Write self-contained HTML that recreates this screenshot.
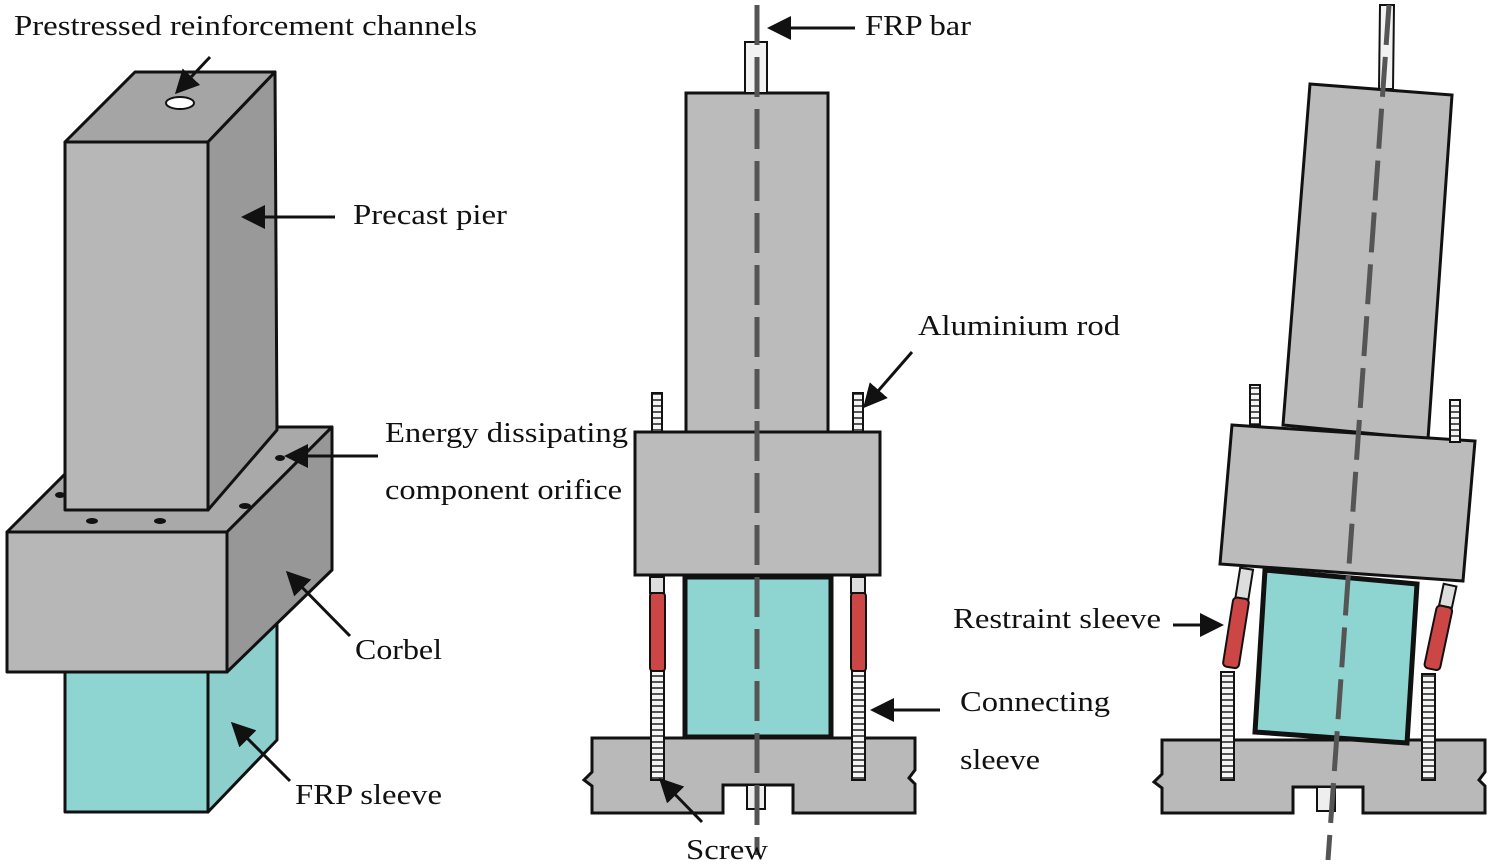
<!DOCTYPE html>
<html><head><meta charset="utf-8"><style>
html,body{margin:0;padding:0;background:#fff;}
svg{display:block;}
text{font-family:"Liberation Serif",serif;font-size:29px;fill:#111;}
</style></head><body>
<svg width="1500" height="868" viewBox="0 0 1500 868" xmlns="http://www.w3.org/2000/svg">
<defs>
<marker id="ah" markerWidth="8" markerHeight="8" refX="7" refY="4" orient="auto" markerUnits="strokeWidth">
<path d="M0,0 L8,4 L0,8 z" fill="#111"/></marker>
<pattern id="thr" width="6" height="6" patternUnits="userSpaceOnUse">
<rect width="6" height="6" fill="#f4f4f4"/><rect y="3" width="6" height="2" fill="#555"/></pattern>
</defs>
<g stroke="#111" stroke-width="3" stroke-linejoin="round">
<!-- LEFT FIGURE -->
<polygon points="208,672 277,600 277,740 208,812" fill="#8ccfcc"/>
<rect x="65" y="640" width="143" height="172" fill="#8ed5d2"/>
<polygon points="7,532 112,427 332,427 227,532" fill="#a9a9a9"/>
<polygon points="227,532 332,427 332,570 227,672" fill="#979797"/>
<rect x="7" y="532" width="220" height="140" fill="#b7b7b7"/>
<polygon points="65,142 135,72 275,72 208,142" fill="#a5a5a5"/>
<polygon points="208,142 275,72 277,430 208,510" fill="#999"/>
<rect x="65" y="142" width="143" height="368" fill="#b7b7b7"/>
<ellipse cx="180" cy="103" rx="14" ry="6" fill="#fff" stroke-width="2"/>
</g>
<g fill="#111">
<ellipse cx="92" cy="521" rx="6" ry="3"/><ellipse cx="160" cy="521" rx="6" ry="3"/>
<ellipse cx="245" cy="506" rx="6" ry="3"/><ellipse cx="60" cy="495" rx="5" ry="3"/>
<ellipse cx="280" cy="458" rx="5" ry="3"/>
</g>

<!-- MIDDLE FIGURE -->
<g stroke="#111" stroke-width="3">
<path d="M592,738 H915 V770 l-6,8 6,6 V813 H793 V785 H723 V813 H592 V786 l-8,-6 8,-8 Z" fill="#b9b9b9"/>
<rect x="747" y="785" width="18" height="24" fill="#eee" stroke-width="2"/>
<rect x="685" y="577" width="146" height="160" fill="#8ed5d2" stroke-width="5"/>
<rect x="686" y="93" width="142" height="340" fill="#bbb"/>
<rect x="635" y="432" width="245" height="143" fill="#bbb"/>
<rect x="745" y="42" width="22" height="51" fill="#f2f2f2" stroke-width="2"/>
</g>
<line x1="757" y1="5" x2="757" y2="855" stroke="#555" stroke-width="5" stroke-dasharray="40,12"/>
<g stroke="#111" stroke-width="2">
<rect x="652" y="393" width="10" height="39" fill="url(#thr)"/>
<rect x="853" y="393" width="10" height="39" fill="url(#thr)"/>
<rect x="650" y="577" width="14" height="16" fill="#ddd"/>
<rect x="851" y="577" width="14" height="16" fill="#ddd"/>
<rect x="650" y="593" width="15" height="78" fill="#cc4646" rx="3"/>
<rect x="851" y="593" width="15" height="78" fill="#cc4646" rx="3"/>
<rect x="651" y="671" width="13" height="109" fill="url(#thr)"/>
<rect x="852" y="671" width="13" height="109" fill="url(#thr)"/>
</g>

<!-- RIGHT FIGURE -->
<g stroke="#111" stroke-width="3">
<path d="M1162,740 H1485 V772 l-6,8 6,6 V813 H1363 V787 H1293 V813 H1162 V788 l-8,-6 8,-8 Z" fill="#b9b9b9"/>
<rect x="1317" y="787" width="18" height="24" fill="#eee" stroke-width="2"/>
<polygon points="1265,570 1417,584 1407,743 1255,732" fill="#8ed5d2" stroke-width="5"/>
<polygon points="1310,84 1452,95 1428,439 1283,425" fill="#bbb"/>
<polygon points="1232,425 1475,441 1463,581 1220,564" fill="#bbb"/>
<polygon points="1380,5 1394,5 1393,89 1379,89" fill="#f2f2f2" stroke-width="2"/>
</g>
<line x1="1389" y1="5" x2="1328" y2="860" stroke="#555" stroke-width="5" stroke-dasharray="40,12"/>
<g stroke="#111" stroke-width="2">
<rect x="1250" y="385" width="10" height="40" fill="url(#thr)"/>
<rect x="1450" y="400" width="10" height="42" fill="url(#thr)"/>
<g transform="rotate(9 1238 620)">
<rect x="1232" y="568" width="13" height="30" fill="#ddd"/>
<rect x="1230" y="598" width="16" height="70" fill="#cc4646" rx="4"/>
</g>
<rect x="1221" y="672" width="13" height="108" fill="url(#thr)"/>
<g transform="rotate(12 1440 630)">
<rect x="1434" y="584" width="13" height="22" fill="#ddd"/>
<rect x="1432" y="606" width="16" height="64" fill="#cc4646" rx="4"/>
</g>
<rect x="1422" y="674" width="13" height="106" fill="url(#thr)"/>
</g>

<!-- ARROWS -->
<g stroke="#111" stroke-width="3" fill="none" marker-end="url(#ah)">
<line x1="210" y1="57" x2="177" y2="92"/>
<line x1="335" y1="217" x2="244" y2="217"/>
<line x1="378" y1="456" x2="287" y2="456"/>
<line x1="350" y1="636" x2="288" y2="573"/>
<line x1="290" y1="781" x2="233" y2="724"/>
<line x1="855" y1="28" x2="770" y2="28"/>
<line x1="912" y1="352" x2="865" y2="406"/>
<line x1="1173" y1="625" x2="1221" y2="625"/>
<line x1="940" y1="710" x2="873" y2="710"/>
<line x1="702" y1="822" x2="661" y2="780"/>
</g>

<!-- LABELS -->
<text x="14" y="35" textLength="463" lengthAdjust="spacingAndGlyphs">Prestressed reinforcement channels</text>
<text x="353" y="224" textLength="154" lengthAdjust="spacingAndGlyphs">Precast pier</text>
<text x="385" y="442" textLength="243" lengthAdjust="spacingAndGlyphs">Energy dissipating</text>
<text x="385" y="499" textLength="237" lengthAdjust="spacingAndGlyphs">component orifice</text>
<text x="355" y="659" textLength="87" lengthAdjust="spacingAndGlyphs">Corbel</text>
<text x="295" y="804" textLength="147" lengthAdjust="spacingAndGlyphs">FRP sleeve</text>
<text x="865" y="35" textLength="106" lengthAdjust="spacingAndGlyphs">FRP bar</text>
<text x="918" y="335" textLength="202" lengthAdjust="spacingAndGlyphs">Aluminium rod</text>
<text x="953" y="628" textLength="208" lengthAdjust="spacingAndGlyphs">Restraint sleeve</text>
<text x="960" y="711" textLength="150" lengthAdjust="spacingAndGlyphs">Connecting</text>
<text x="960" y="769" textLength="80" lengthAdjust="spacingAndGlyphs">sleeve</text>
<text x="686" y="859" textLength="82" lengthAdjust="spacingAndGlyphs">Screw</text>
</svg>
</body></html>
